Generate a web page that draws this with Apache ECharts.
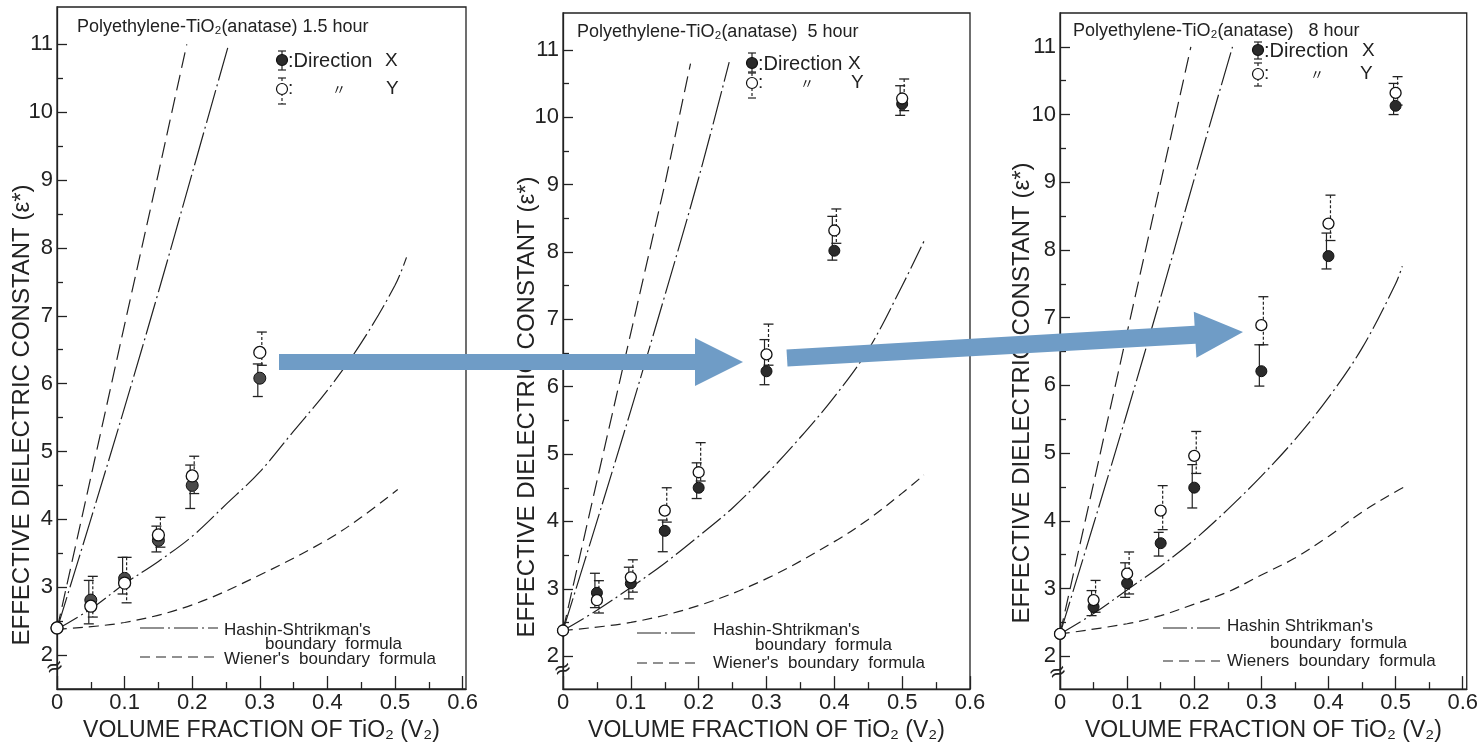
<!DOCTYPE html>
<html>
<head>
<meta charset="utf-8">
<script src="https://cdn.jsdelivr.net/npm/echarts@6/dist/echarts.min.js"></script>
<style>
html, body { margin: 0; padding: 0; background: #fff; }
#chart { width: 1481px; height: 747px; }
</style>
</head>
<body>
<div id="chart"></div>
<script>
// volume fraction of TiO2
var vol15 = [0, 0.05, 0.1, 0.15, 0.2, 0.3];
var vol = [0, 0.05, 0.1, 0.15, 0.2, 0.3, 0.4, 0.5];

// 1.5 hour
var x15 = [2.40, 2.81, 3.13, 3.69, 4.50, 6.08];
var x15Lo = [2.40, 2.46, 2.90, 3.52, 4.16, 5.81];
var x15Hi = [2.40, 3.10, 3.44, 3.90, 4.80, 6.29];
var y15 = [2.40, 2.72, 3.06, 3.77, 4.64, 6.46];
var y15Lo = [2.40, 2.56, 2.77, 3.59, 4.38, 6.27];
var y15Hi = [2.40, 3.16, 3.44, 4.03, 4.93, 6.76];

// 5 hour
var x5 = [2.38, 2.94, 3.08, 3.86, 4.50, 6.23, 8.02, 10.20];
var x5Lo = [2.38, 2.72, 2.85, 3.55, 4.34, 6.03, 7.88, 10.03];
var x5Hi = [2.38, 3.23, 3.32, 4.02, 4.87, 6.70, 8.53, 10.47];
var y5 = [2.38, 2.83, 3.17, 4.16, 4.73, 6.48, 8.32, 10.28];
var y5Lo = [2.38, 2.64, 2.95, 3.99, 4.60, 6.32, 8.13, 10.10];
var y5Hi = [2.38, 3.12, 3.43, 4.50, 5.17, 6.93, 8.64, 10.57];

// 8 hour
var x8 = [2.33, 2.73, 3.08, 3.67, 4.49, 6.21, 7.91, 10.13];
var x8Lo = [2.33, 2.60, 2.87, 3.48, 4.19, 5.99, 7.72, 10.00];
var x8Hi = [2.33, 2.97, 3.38, 3.83, 4.83, 6.60, 8.25, 10.46];
var y8 = [2.33, 2.83, 3.22, 4.15, 4.96, 6.89, 8.39, 10.32];
var y8Lo = [2.33, 2.65, 2.92, 3.87, 4.70, 6.60, 8.14, 10.14];
var y8Hi = [2.33, 3.12, 3.54, 4.52, 5.32, 7.31, 8.81, 10.56];

// boundary curves [v2, eps]
var wienerUp15 = [[0, 2.38], [0.05, 4.62], [0.1, 6.87], [0.15, 9.1], [0.192, 11.0]];
var hsUp15 = [[0, 2.38], [0.05, 4.0], [0.1, 5.65], [0.15, 7.35], [0.2, 9.1], [0.254, 11.0]];
var hsLow15 = [[0, 2.38], [0.05, 2.68], [0.1, 3.05], [0.15, 3.38], [0.2, 3.75], [0.25, 4.22], [0.3, 4.7], [0.35, 5.3], [0.4, 5.9], [0.45, 6.6], [0.5, 7.45], [0.517, 7.86]];
var wienerLow15 = [[0, 2.38], [0.1, 2.48], [0.2, 2.74], [0.3, 3.18], [0.4, 3.7], [0.45, 4.03], [0.504, 4.44]];

var wienerUp5 = [[0, 2.38], [0.05, 4.6], [0.1, 6.8], [0.15, 9.0], [0.188, 10.8]];
var hsUp5 = [[0, 2.38], [0.05, 4.0], [0.1, 5.65], [0.15, 7.35], [0.2, 9.1], [0.245, 10.82]];
var hsLow5 = [[0, 2.38], [0.05, 2.68], [0.1, 3.02], [0.15, 3.38], [0.2, 3.78], [0.25, 4.2], [0.3, 4.7], [0.35, 5.25], [0.4, 5.85], [0.45, 6.55], [0.5, 7.5], [0.534, 8.2]];
var wienerLow5 = [[0, 2.38], [0.1, 2.5], [0.2, 2.75], [0.3, 3.15], [0.4, 3.7], [0.45, 4.03], [0.5, 4.42], [0.532, 4.69]];

var wienerUp8 = [[0, 2.33], [0.05, 4.55], [0.1, 6.78], [0.15, 9.0], [0.195, 11.0]];
var hsUp8 = [[0, 2.33], [0.05, 3.95], [0.1, 5.6], [0.15, 7.3], [0.2, 9.05], [0.257, 11.0]];
var hsLow8 = [[0, 2.33], [0.05, 2.63], [0.1, 2.98], [0.15, 3.33], [0.2, 3.72], [0.25, 4.17], [0.3, 4.66], [0.35, 5.2], [0.4, 5.82], [0.45, 6.55], [0.5, 7.5], [0.51, 7.76]];
var wienerLow8 = [[0, 2.33], [0.1, 2.48], [0.15, 2.6], [0.2, 2.77], [0.25, 2.95], [0.3, 3.2], [0.35, 3.45], [0.4, 3.77], [0.45, 4.13], [0.5, 4.43], [0.515, 4.51]];

// ticks
var xTicks = [0, 0.1, 0.2, 0.3, 0.4, 0.5, 0.6];
var xMinor = [0.05, 0.15, 0.25, 0.35, 0.45, 0.55];
var yTicks = [2, 3, 4, 5, 6, 7, 8, 9, 10, 11];
var yMinor = [2.5, 3.5, 4.5, 5.5, 6.5, 7.5, 8.5, 9.5, 10.5];

var titles = ['Polyethylene-TiO₂(anatase) 1.5 hour', 'Polyethylene-TiO₂(anatase)  5 hour', 'Polyethylene-TiO₂(anatase)   8 hour'];

var ink = '#222';
var font = 'Liberation Sans, Arial, sans-serif';

var panels = [
    { left: 57, top: 7, width: 409, height: 682, yMin: 1.5, yMax: 11.55, xMax: 0.605,
      vol: vol15, x: x15, xLo: x15Lo, xHi: x15Hi, y: y15, yLo: y15Lo, yHi: y15Hi,
      curves: [wienerUp15, hsUp15, hsLow15, wienerLow15], dot: '#4a4a4a', size: 12 },
    { left: 563, top: 13, width: 407, height: 679, yMin: 1.51, yMax: 11.55, xMax: 0.6,
      vol: vol, x: x5, xLo: x5Lo, xHi: x5Hi, y: y5, yLo: y5Lo, yHi: y5Hi,
      curves: [wienerUp5, hsUp5, hsLow5, wienerLow5], dot: '#2b2b2b', size: 11 },
    { left: 1060, top: 13, width: 412, height: 680, yMin: 1.515, yMax: 11.5, xMax: 0.606,
      vol: vol, x: x8, xLo: x8Lo, xHi: x8Hi, y: y8, yLo: y8Lo, yHi: y8Hi,
      curves: [wienerUp8, hsUp8, hsLow8, wienerLow8], dot: '#2b2b2b', size: 11 }
];

var curveDash = [[16, 7], [34, 4, 2, 4], [24, 4, 2, 4], [10, 6]];
var curveSmooth = [false, 0.35, 0.35, 0.35];

function errBars(dx, dashed) {
    return function (params, api) {
        var v = api.value(0), lo = api.value(1), hi = api.value(2);
        if (lo === hi) return;
        var top = api.coord([v, hi]), bot = api.coord([v, lo]);
        var x = top[0] + dx, w = 5;
        var cap = { stroke: ink, lineWidth: 1.3 };
        return {
            type: 'group',
            children: [
                { type: 'line', shape: { x1: x, y1: top[1], x2: x, y2: bot[1] },
                  style: { stroke: ink, lineWidth: 1.2, lineDash: dashed ? [3, 2] : null } },
                { type: 'line', shape: { x1: x - w, y1: top[1], x2: x + w, y2: top[1] }, style: cap },
                { type: 'line', shape: { x1: x - w, y1: bot[1], x2: x + w, y2: bot[1] }, style: cap }
            ]
        };
    };
}

var option = { animation: false, backgroundColor: '#fff', grid: [], xAxis: [], yAxis: [], series: [], graphic: [] };

panels.forEach(function (p, i) {
    option.grid.push({ left: p.left, top: p.top, width: p.width, height: p.height,
        show: true, borderColor: ink, borderWidth: 1.3 });
    option.xAxis.push({
        type: 'value', gridIndex: i, position: 'bottom', min: 0, max: p.xMax,
        name: 'VOLUME FRACTION OF TiO₂ (V₂)', nameLocation: 'middle', nameGap: 22,
        nameTextStyle: { fontFamily: font, fontSize: 23, color: ink },
        axisLine: { lineStyle: { color: ink, width: 1.3 } },
        axisTick: { inside: true, length: 13, customValues: xTicks, lineStyle: { color: ink, width: 1.3 } },
        axisLabel: { customValues: xTicks, margin: 3, fontFamily: font, fontSize: 22, color: ink,
            formatter: function (v) { return v === 0 ? '0' : v.toFixed(1); } },
        splitLine: { show: false }
    });
    option.xAxis.push({
        type: 'value', gridIndex: i, position: 'bottom', min: 0, max: p.xMax,
        axisLine: { show: false },
        axisTick: { inside: true, length: 7, customValues: xMinor, lineStyle: { color: ink, width: 1.3 } },
        axisLabel: { show: false }, splitLine: { show: false }
    });
    option.yAxis.push({
        type: 'value', gridIndex: i, position: 'left', min: p.yMin, max: p.yMax,
        axisLine: { show: true, lineStyle: { color: ink, width: 1.3 } },
        axisTick: { show: true, inside: true, length: 10, customValues: yTicks, lineStyle: { color: ink, width: 1.3 } },
        axisLabel: { customValues: yTicks, margin: 4, fontFamily: font, fontSize: 22, color: ink },
        splitLine: { show: false }
    });
    option.yAxis.push({
        type: 'value', gridIndex: i, position: 'left', min: p.yMin, max: p.yMax,
        axisLine: { show: false },
        axisTick: { show: true, inside: true, length: 6, customValues: yMinor, lineStyle: { color: ink, width: 1.3 } },
        axisLabel: { show: false }, splitLine: { show: false }
    });

    var xi = 2 * i, yi = 2 * i;
    p.curves.forEach(function (c, k) {
        option.series.push({
            type: 'line', xAxisIndex: xi, yAxisIndex: yi, data: c, smooth: curveSmooth[k],
            showSymbol: false, silent: true, z: 2,
            lineStyle: { color: ink, width: 1.2, type: curveDash[k] }
        });
    });

    var xBars = p.vol.map(function (v, j) { return [v, p.xLo[j], p.xHi[j]]; });
    var yBars = p.vol.map(function (v, j) { return [v, p.yLo[j], p.yHi[j]]; });
    option.series.push({ type: 'custom', xAxisIndex: xi, yAxisIndex: yi, data: xBars, z: 3,
        encode: { x: 0, y: [1, 2] }, renderItem: errBars(-2, false) });
    option.series.push({ type: 'custom', xAxisIndex: xi, yAxisIndex: yi, data: yBars, z: 3,
        encode: { x: 0, y: [1, 2] }, renderItem: errBars(2, true) });

    option.series.push({
        name: 'Direction X', type: 'scatter', xAxisIndex: xi, yAxisIndex: yi, z: 4,
        data: p.vol.map(function (v, j) { return [v, p.x[j]]; }),
        symbol: 'circle', symbolSize: p.size,
        itemStyle: { color: p.dot, borderColor: '#111', borderWidth: 1, opacity: 1 }
    });
    option.series.push({
        name: 'Direction Y', type: 'scatter', xAxisIndex: xi, yAxisIndex: yi, z: 5,
        data: p.vol.map(function (v, j) { return [v, p.y[j]]; }),
        symbol: 'circle', symbolSize: p.size,
        itemStyle: { color: '#fff', borderColor: '#111', borderWidth: 1.3, opacity: 1 }
    });
});

// text, keys and annotations
function txt(x, y, s, size, extra) {
    var st = { text: s, x: x, y: y, fill: ink, font: (size || 17) + 'px ' + font, verticalAlign: 'middle' };
    if (extra) for (var k in extra) st[k] = extra[k];
    return { type: 'text', z: 50, style: st };
}
function seg(x1, y1, x2, y2, dash) {
    return { type: 'line', z: 50, shape: { x1: x1, y1: y1, x2: x2, y2: y2 },
        style: { stroke: ink, lineWidth: 1.2, lineDash: dash || null } };
}
function dot(x, y, filled, r) {
    return { type: 'circle', z: 51, shape: { cx: x, cy: y, r: r },
        style: { fill: filled ? '#2b2b2b' : '#fff', stroke: '#111', lineWidth: 1.2 } };
}
function key(cx, y1, b1, y2, b2, tx, xx, dit, yx) {
    var g = option.graphic;
    g.push(seg(cx, b1[0], cx, b1[1]), seg(cx - 4, b1[0], cx + 4, b1[0]), seg(cx - 4, b1[1], cx + 4, b1[1]));
    g.push(seg(cx, b2[0], cx, b2[1], [3, 2]), seg(cx - 4, b2[0], cx + 4, b2[0]), seg(cx - 4, b2[1], cx + 4, b2[1]));
    g.push(dot(cx, y1, true, 5.5), dot(cx, y2, false, 5.5));
    g.push(txt(tx, y1 + 1, ':Direction', 20), txt(xx, y1 + 1, 'X', 19));
    g.push(txt(tx, y2, ':', 19), txt(dit, y2, '〃', 14, { font: '14px Noto Sans CJK JP, sans-serif' }), txt(yx, y2, 'Y', 19));
}
function boundKey(lx1, lx2, ly1, ly2, tx, tx2, ty1, ty2, ty3, hs, wn) {
    var g = option.graphic;
    g.push(seg(lx1, ly1, lx2, ly1, [24, 4, 2, 4]), seg(lx1, ly2, lx2, ly2, [10, 6]));
    g.push(txt(tx, ty1, hs, 17), txt(tx2, ty2, 'boundary  formula', 17), txt(tx, ty3, wn, 17));
}

option.graphic.push(txt(77, 27, titles[0], 18), txt(577, 32, titles[1], 18), txt(1073, 31, titles[2], 18));

key(282, 60, [51, 70], 89, [78, 104], 288, 385, 332, 386);
key(752, 63, [53, 72], 83, [73, 98], 758, 848, 800, 851);
key(1258, 50, [42, 59], 74, [63, 86], 1264, 1362, 1310, 1360);

boundKey(140, 218, 628, 657, 224, 265, 630, 644, 659, "Hashin-Shtrikman's", "Wiener's  boundary  formula");
boundKey(637, 698, 633, 663, 713, 755, 630, 645, 663, "Hashin-Shtrikman's", "Wiener's  boundary  formula");
boundKey(1163, 1220, 628, 661, 1227, 1270, 626, 643, 661, "Hashin Shtrikman's", "Wieners  boundary  formula");

// y axis titles
[[22, 415], [527, 407], [1022, 393]].forEach(function (c) {
    option.graphic.push({ type: 'text', z: 50, x: c[0], y: c[1], rotation: Math.PI / 2,
        style: { text: 'EFFECTIVE DIELECTRIC CONSTANT (ε*)', fill: ink, font: '24px ' + font,
            align: 'center', verticalAlign: 'middle' } });
});

// axis break marks
[[55, 668], [563, 670], [1058, 673]].forEach(function (c) {
    option.graphic.push({ type: 'text', z: 52, x: c[0], y: c[1], rotation: 0.35,
        style: { text: '≈', fill: ink, font: '22px DejaVu Sans, sans-serif', align: 'center', verticalAlign: 'middle' } });
});

// blue arrows
var arrowBlue = '#6f9cc6';
option.graphic.push({ type: 'polygon', z: 100,
    shape: { points: [[279, 354], [695, 354], [695, 338], [743, 362], [695, 386], [695, 370], [279, 370]] },
    style: { fill: arrowBlue } });
option.graphic.push({ type: 'polygon', z: 100,
    shape: { points: [[786.5, 349.5], [1194.6, 325.7], [1193.8, 311.7], [1243, 332], [1196.4, 357.7], [1195.6, 343.7], [787.5, 366.5]] },
    style: { fill: arrowBlue } });

var chart = echarts.init(document.getElementById('chart'));
chart.setOption(option);
</script>
</body>
</html>
